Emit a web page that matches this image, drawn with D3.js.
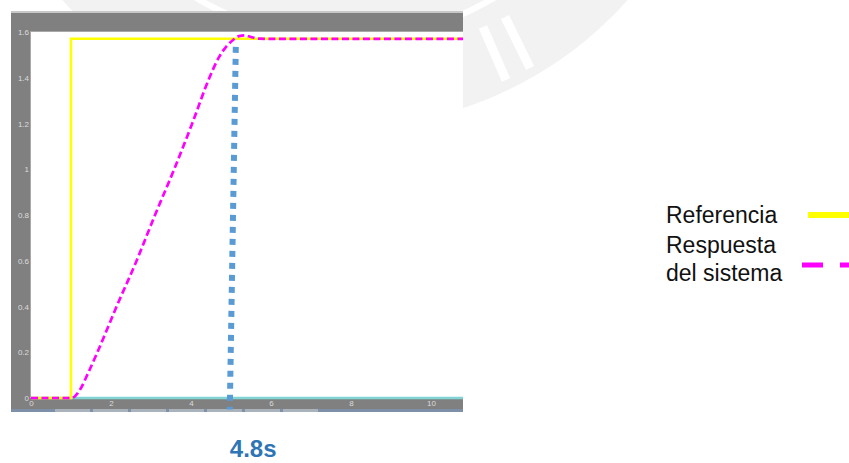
<!DOCTYPE html>
<html><head><meta charset="utf-8">
<script src="https://cdn.jsdelivr.net/npm/d3@7"></script>
<style>html,body{margin:0;padding:0;background:#fff;overflow:hidden}</style>
</head><body>
<svg id="c" width="849" height="463"></svg>
<script>
// ---- data ----
const referenceSeries = [[0,0],[1,0],[1,1.57],[10.8,1.57]];
const responseSeries = [[0,0],[1.0,0],[1.1,0.008],[1.22,0.035],[1.43,0.11],[1.66,0.2],[2.14,0.4],[2.64,0.6],[3.1,0.8],[3.58,1.0],[4.03,1.2],[4.46,1.4],[4.7,1.49],[4.9,1.54],[5.05,1.565],[5.2,1.582],[5.35,1.585],[5.5,1.578],[5.7,1.571],[6.0,1.57],[10.8,1.57]];
const zeroSeries = [[0,0],[10.8,0]];
const markerSeries = [[5.12,1.535],[4.97,-0.05]];
const markerLabel = "4.8s";
const xTicks = [0,2,4,6,8,10];
const xTickLabels = ["0","2","4","6","8","10"];
const yTicks = [0,0.2,0.4,0.6,0.8,1,1.2,1.4,1.6];
const yTickLabels = ["0","0.2","0.4","0.6","0.8","1","1.2","1.4","1.6"];
const legendLines = ["Referencia","Respuesta","del sistema"];

(function(){
const svg = d3.select("#c");

// watermark
const wm = svg.append("g");
wm.append("circle").attr("cx",345).attr("cy",-251).attr("r",378).attr("fill","#f2f2f2");
wm.append("circle").attr("cx",345).attr("cy",-251).attr("r",290).attr("fill","none").attr("stroke","#fff").attr("stroke-width",6);
wm.append("line").attr("x1",483).attr("y1",27).attr("x2",506).attr("y2",80).attr("stroke","#fff").attr("stroke-width",9);
wm.append("line").attr("x1",505).attr("y1",17).attr("x2",530).attr("y2",68).attr("stroke","#fff").attr("stroke-width",9);

// panel
const pL=31,pR=463,pT=32,pB=398;
svg.append("rect").attr("x",11).attr("y",12).attr("width",pR-11).attr("height",397).attr("fill","#808080");
svg.append("rect").attr("x",11).attr("y",11).attr("width",pR-11).attr("height",2).attr("fill","#c8c8c8");
svg.append("rect").attr("x",pL-1).attr("y",pT-1).attr("width",pR-pL+1).attr("height",pB-pT+1).attr("fill","#a8a8a8");
svg.append("rect").attr("x",pL).attr("y",pT).attr("width",pR-pL).attr("height",pB-pT).attr("fill","#fff");
// bottom status strip
svg.append("rect").attr("x",11).attr("y",409).attr("width",pR-11).attr("height",3).attr("fill","#7e90a8");
svg.append("g").selectAll("rect").data(d3.range(7)).join("rect")
  .attr("x",i=>55+i*38).attr("y",409).attr("width",35).attr("height",3).attr("fill","#aab2bc");

const x = d3.scaleLinear().domain([0,10.8]).range([pL,pR]);
const y = d3.scaleLinear().domain([0,1.6]).range([pB,pT]);

// axes
const ax = svg.append("g").attr("transform","translate(0,400)")
  .call(d3.axisBottom(x).tickValues(xTicks).tickSize(0).tickPadding(0).tickFormat((d,i)=>xTickLabels[i]));
const ay = svg.append("g").attr("transform","translate(29,0)")
  .call(d3.axisLeft(y).tickValues(yTicks).tickSize(0).tickPadding(0).tickFormat((d,i)=>yTickLabels[i]));
[ax,ay].forEach(g=>{g.select(".domain").remove();
  g.selectAll("text").attr("fill","#dcdcdc").style("font-family","Liberation Sans, Arial, sans-serif").style("font-size","8px");});

const line = d3.line().x(d=>x(d[0])).y(d=>y(d[1]));
const smooth = d3.line().x(d=>x(d[0])).y(d=>y(d[1])).curve(d3.curveMonotoneX);

svg.append("path").datum(zeroSeries).attr("d",line).attr("fill","none").attr("stroke","#80d4d4").attr("stroke-width",2.5);
svg.append("path").datum(referenceSeries).attr("d",line).attr("fill","none").attr("stroke","#ffff00").attr("stroke-width",2.5);
svg.append("path").datum(responseSeries).attr("d",smooth).attr("fill","none").attr("stroke","#ff00ff").attr("stroke-width",2.7).attr("stroke-dasharray","7 3.5");

// marker dotted line
svg.append("path").datum(markerSeries).attr("d",line).attr("fill","none").attr("stroke","#5b9bd5").attr("stroke-width",6).attr("stroke-dasharray","6 6");
svg.append("text").attr("x",x(markerSeries[1][0])).attr("y",457).text(markerLabel)
  .attr("fill","#2e75b6").style("font-family","Liberation Sans, Arial, sans-serif").style("font-weight","bold").style("font-size","24px");

// legend
const lg = svg.append("g");
lg.selectAll("text").data(legendLines).join("text")
  .attr("x",666).attr("y",(d,i)=>[223,253,281][i]).text(d=>d)
  .attr("fill","#111").style("font-family","Liberation Sans, Arial, sans-serif").style("font-size","23px");
lg.append("line").attr("x1",808).attr("x2",852).attr("y1",215).attr("y2",215).attr("stroke","#ffff00").attr("stroke-width",6);
lg.append("line").attr("x1",802).attr("x2",852).attr("y1",265).attr("y2",265).attr("stroke","#ff00ff").attr("stroke-width",5).attr("stroke-dasharray","21 17");
})();
</script>
</body></html>
